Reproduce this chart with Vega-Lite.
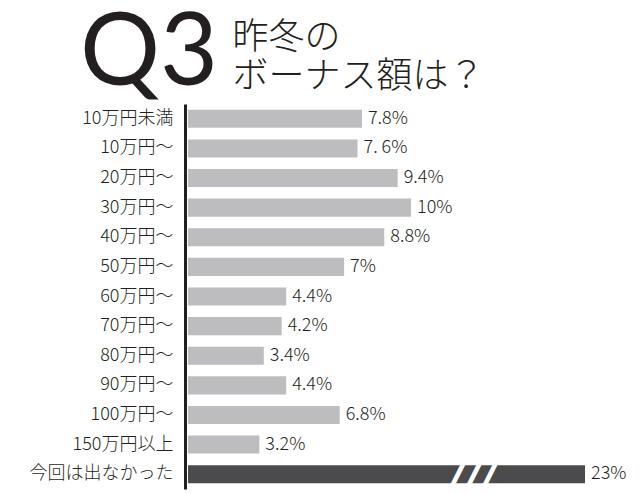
{
  "$schema": "https://vega.github.io/schema/vega-lite/v6.json",
  "width": 397,
  "height": 385,
  "autosize": "none",
  "padding": {"left": 188, "top": 104, "right": 55, "bottom": 5},
  "background": "white",
  "title": {
    "text": "Q3",
    "font": "Lato",
    "fontSize": 100,
    "fontWeight": "normal",
    "color": "#231f20",
    "anchor": "start",
    "frame": "group",
    "dx": -108,
    "dy": 166,
    "baseline": "alphabetic",
    "offset": 0
  },
  "data": {
    "values": [
      {"category": "10万円未満", "value": 7.8, "label": "7.8%"},
      {"category": "10万円〜", "value": 7.6, "label": "7. 6%"},
      {"category": "20万円〜", "value": 9.4, "label": "9.4%"},
      {"category": "30万円〜", "value": 10, "label": "10%"},
      {"category": "40万円〜", "value": 8.8, "label": "8.8%"},
      {"category": "50万円〜", "value": 7, "label": "7%"},
      {"category": "60万円〜", "value": 4.4, "label": "4.4%"},
      {"category": "70万円〜", "value": 4.2, "label": "4.2%"},
      {"category": "80万円〜", "value": 3.4, "label": "3.4%"},
      {"category": "90万円〜", "value": 4.4, "label": "4.4%"},
      {"category": "100万円〜", "value": 6.8, "label": "6.8%"},
      {"category": "150万円以上", "value": 3.2, "label": "3.2%"},
      {"category": "今回は出なかった", "value": 23, "label": "23%"}
    ]
  },
  "encoding": {
    "y": {
      "field": "category",
      "type": "nominal",
      "sort": null,
      "scale": {"paddingInner": 0.39, "paddingOuter": 0.195},
      "axis": {
        "title": null,
        "domain": true,
        "domainColor": "#231f20",
        "domainWidth": 3,
        "ticks": false,
        "tickSize": 0,
        "labelPadding": 12,
        "offset": 3,
        "labelFont": "Noto Sans CJK JP",
        "labelFontSize": 18,
        "labelFontWeight": 300,
        "labelColor": "#231f20",
        "labelLimit": 200,
        "grid": false
      }
    },
    "x": {
      "field": "value",
      "type": "quantitative",
      "scale": {"domain": [0, 17.8], "clamp": true, "nice": false},
      "axis": {
        "orient": "top",
        "labels": false,
        "ticks": false,
        "domain": false,
        "grid": false,
        "title": ["昨冬の", "ボーナス額は？"],
        "titleFont": "Noto Sans CJK JP",
        "titleFontSize": 36,
        "titleFontWeight": 300,
        "titleColor": "#231f20",
        "titleAlign": "left",
        "titleAnchor": "start",
        "titleX": 44,
        "titleY": -56,
        "titleBaseline": "alphabetic",
        "titleLineHeight": 39
      }
    }
  },
  "layer": [
    {
      "mark": {"type": "bar"},
      "encoding": {
        "color": {
          "condition": {"test": "datum.category === '今回は出なかった'", "value": "#4b4b4d"},
          "value": "#bdbdbf"
        }
      }
    },
    {
      "mark": {
        "type": "text",
        "align": "left",
        "baseline": "middle",
        "dx": 6,
        "font": "Noto Sans CJK JP",
        "fontSize": 18,
        "fontWeight": 300,
        "color": "#231f20"
      },
      "encoding": {"text": {"field": "label"}}
    },
    {
      "transform": [{"filter": "datum.category === '今回は出なかった'"}],
      "mark": {
        "type": "text",
        "text": "///",
        "font": "DejaVu Sans",
        "fontSize": 44,
        "fontWeight": "bold",
        "fontStyle": "italic",
        "color": "#ffffff",
        "align": "center",
        "baseline": "middle"
      },
      "encoding": {
        "x": {"datum": 12.9, "type": "quantitative"}
      }
    }
  ],
  "config": {"view": {"stroke": null}}
}
